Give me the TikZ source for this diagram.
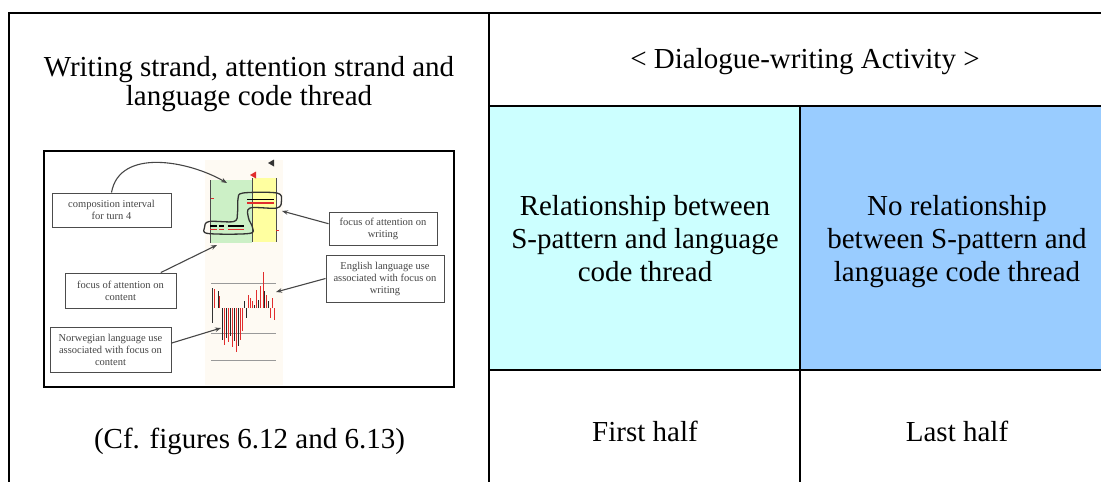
\documentclass[tikz,border=0pt]{standalone}
\usepackage{fontspec}
\setmainfont{Liberation Serif}
\usetikzlibrary{arrows.meta,calc}

\definecolor{cellcyan}{RGB}{204,255,255}
\definecolor{cellblue}{RGB}{153,204,255}
\definecolor{zonegreen}{RGB}{204,240,198}
\definecolor{zoneyellow}{RGB}{255,255,160}
\definecolor{plotbg}{RGB}{254,250,243}
\definecolor{inkgray}{RGB}{70,70,70}
\definecolor{spikered}{RGB}{225,45,45}

\begin{document}
\begin{tikzpicture}[
  x=1pt, y=-1pt,
  rule/.style={line width=1.8pt, line cap=rect},
  celltext/.style={font=\fontsize{29}{33}\selectfont, align=center, inner sep=0pt},
  callout/.style={draw=gray!60!black, line width=0.9pt, fill=white,
    font=\fontsize{10.5}{12}\selectfont, text=inkgray, align=center, inner sep=0pt},
  pointer/.style={draw=inkgray, line width=1.1pt, -{Stealth[length=6pt,width=4.5pt]}},
  zoneline/.style={draw=gray!60!black, line width=0.7pt},
  scaleline/.style={draw=gray!80, line width=0.8pt},
  loopline/.style={draw=black!80, line width=1.3pt},
]
\useasboundingbox (0,0) rectangle (1101,482);

% ---- table cells ----
\fill[cellcyan] (489,106) rectangle (800,370);
\fill[cellblue] (800,106) rectangle (1101,370);

\draw[rule] (9,482) -- (9,13) -- (1101,13);
\draw[rule] (489,13) -- (489,482);
\draw[rule] (489,106) -- (1101,106);
\draw[rule] (489,370) -- (1101,370);
\draw[rule] (800,106) -- (800,482);

% ---- cell texts ----
\node[celltext, font=\fontsize{29}{29}\selectfont] (title) at (249,84.5)
  {Writing strand, attention strand and\\language code thread};
\node[celltext, anchor=base] (activity) at (805,68) {< Dialogue-writing Activity >};
\node[celltext] (related) at (645,239)
  {Relationship between\\S-pattern and language\\code thread};
\node[celltext] (unrelated) at (957,241.5)
  {No relationship\\between S-pattern and\\language code thread};
\node[celltext, anchor=base] (first) at (645,441) {First half};
\node[celltext, anchor=base] (last) at (957,441) {Last half};
\node[celltext, anchor=base] (cf) at (249.5,448) {(Cf. figures 6.12 and 6.13)};

% ---- embedded figure ----
\fill[plotbg] (205,160) rectangle (283,385);
\fill[zonegreen] (210,180) rectangle (252,243);
\fill[zoneyellow] (252,178) rectangle (276,242);
\draw[zoneline] (210,180) -- (210,243);
\draw[zoneline] (252,178) -- (252,242);
\draw[zoneline] (276,178) -- (276,242);
\draw[spikered, line width=0.6pt] (211,198) -- (214,198);
\draw[spikered, line width=0.6pt] (276,230) -- (279,230);

% turn markers
\fill[spikered] (250,175) -- (256,171.5) -- (256,178.5) -- cycle;
\fill[black!80] (268,163) -- (274,159.5) -- (274,166.5) -- cycle;

% writing bars
\draw[black, line width=1.8pt] (247,199.5) -- (274,199.5);
\draw[spikered, line width=1.8pt] (247,203) -- (274,203);
\foreach \a/\b in {210/217, 219/224, 228/244}{
  \draw[black, line width=1.8pt] (\a,226) -- (\b,226);
  \draw[spikered, line width=1.8pt] (\a,229.5) -- (\b,229.5);
}

% S-shaped composition interval
\draw[loopline] plot[smooth cycle, tension=0.55] coordinates {
  (243,193) (277,193) (281.5,200.5) (277,208) (250,208) (248.5,218)
  (252.5,227.5) (249,233.5) (208,233.5) (204.5,227.5) (209,221.5)
  (234,221.5) (237.5,213) (238,199)};

% language code thread
\draw[scaleline] (211,283) -- (276,283);
\draw[scaleline] (211,333) -- (276,333);
\draw[scaleline] (211,360) -- (276,360);
\draw[black!80, line width=0.8pt] (212,288) -- (212,323);
\foreach \x/\y in {214/289, 224/345, 228/342, 232/347, 236/352, 240/340, 242/331,
                   248/295, 250/298, 252/301, 256/290, 260/286, 263/272, 266/295,
                   270/318, 272/298, 274/320, 219/296}{
  \draw[spikered, line width=0.9pt] (\x,308) -- (\x,\y);
}
\foreach \x/\y in {218/291, 222/340, 226/338, 230/336, 234/341, 238/346,
                   244/301, 246/318, 254/305, 258/300, 264/291, 268/301}{
  \draw[black!85, line width=0.9pt] (\x,308) -- (\x,\y);
}

% callout boxes
\node[callout, minimum width=119pt, minimum height=34pt] (interval) at (111.5,210)
  {composition interval\\for turn 4};
\node[callout, minimum width=111pt, minimum height=35pt] (content) at (120.5,290.5)
  {focus of attention on\\content};
\node[callout, minimum width=121pt, minimum height=45pt] (norwegian) at (110.5,349.5)
  {Norwegian language use\\associated with focus on\\content};
\node[callout, minimum width=108pt, minimum height=33pt] (writing) at (383,228.5)
  {focus of attention on\\writing};
\node[callout, minimum width=118pt, minimum height=47pt] (english) at (385,278.5)
  {English language use\\associated with focus on\\writing};

% pointer targets
\coordinate (tipInterval) at (227,183);
\coordinate (tipContent) at (217,245);
\coordinate (tipNorwegian) at (221,328);
\coordinate (tipWriting) at (282,211);
\coordinate (tipEnglish) at (276,292);

\draw[pointer] (interval.north) to[out=80, in=150] (tipInterval);
\draw[pointer] (content.24) -- (tipContent);
\draw[pointer] (norwegian.6) -- (tipNorwegian);
\draw[pointer] (writing.175) -- (tipWriting);
\draw[pointer] (english.west) -- (tipEnglish);

% figure frame
\draw[line width=1.8pt] (44,151) rectangle (454,387);
\end{tikzpicture}
\end{document}
